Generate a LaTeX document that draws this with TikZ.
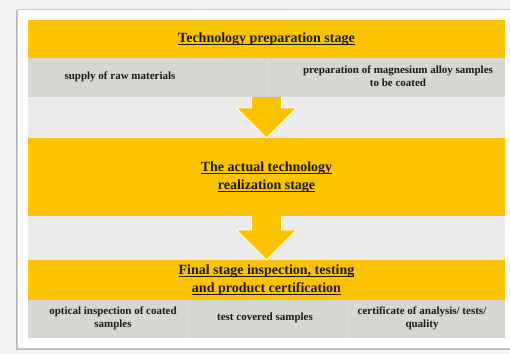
\documentclass[tikz,border=0pt]{standalone}
\usepackage{fontspec}
\setmainfont{Liberation Serif}
\usepackage{tikz}
\usetikzlibrary{calc}
\definecolor{stageyellow}{RGB}{251,195,0}
\definecolor{cellgrey}{RGB}{214,215,211}
\definecolor{gapgrey}{RGB}{235,235,235}
\definecolor{pagegrey}{RGB}{244,244,244}
\definecolor{inktext}{RGB}{25,25,25}
% underline that lets the descenders cross it
\newcommand{\stageul}[1]{\setbox0\hbox{#1}\rlap{\rule[-2.2pt]{\wd0}{0.9pt}}\box0}
\tikzset{
  band/.style   ={anchor=north west, minimum width=477pt, inner sep=0pt, outer sep=0pt,
                  align=center, text=inktext},
  stage/.style  ={band, fill=stageyellow, font=\bfseries\fontsize{14}{18}\selectfont},
  tasks/.style  ={band, fill=cellgrey},
  task/.style   ={align=center, text=inktext, inner sep=0pt,
                  font=\bfseries\fontsize{11}{13}\selectfont},
  divider/.style={draw=white!22!cellgrey, line width=0.6pt},
  flow/.style   ={fill=stageyellow, draw=white, line width=0.8pt, line join=miter},
}
% block arrow from the bottom of one band down to the top of the next
\newcommand{\stagearrow}[2]{%
  \path[flow] ($(#1.south)+(-15,0)$) -- ($(#2.north)+(-15,30)$) -- ($(#2.north)+(-30,30)$)
    -- (#2.north) -- ($(#2.north)+(30,30)$) -- ($(#2.north)+(15,30)$) -- ($(#1.south)+(15,0)$);}

\begin{document}
\begin{tikzpicture}[x=1pt,y=1pt]
\def\yA{334} \def\yB{296} \def\yC{216} \def\yD{94} \def\yE{54}
\useasboundingbox[fill=pagegrey] (0,0) rectangle (510,354);

% card with its shadow
\fill[black!28] (15.5,4) rectangle (512,343.5);
\fill[white,draw=black!22,line width=0.4pt] (17,6) rectangle (513,345);
\fill[gapgrey] (28,16) rectangle (505,\yA);

% stage 1
\node[stage, minimum height=38pt] (prep) at (28,\yA) {\stageul{Technology preparation stage}};
\node[tasks, minimum height=39pt] (prepwork) at (28,\yB) {};
\draw[divider] (268,\yB) -- (268,\yB-39);
\node[task] (rawmat) at (120,277.5) {supply of raw materials};
\node[task] (mgsamples) at (398,277.5) {preparation of magnesium alloy samples\\to be coated};

% stage 2
\node[stage, minimum height=78pt] (real) at (28,\yC)
  {\stageul{The actual technology}\\\stageul{realization stage}};

% stage 3
\node[stage, minimum height=40pt] (final) at (28,\yD)
  {\stageul{Final stage inspection, testing}\\\stageul{and product certification}};
\node[tasks, minimum height=38pt] (checks) at (28,\yE) {};
\draw[divider] (187,\yE) -- (187,\yE-38);
\draw[divider] (348,\yE) -- (348,\yE-38);
\node[task] (optical) at (113,36) {optical inspection of coated\\samples};
\node[task] (testing) at (265,36) {test covered samples};
\node[task] (certif) at (422,36) {certificate of analysis/ tests/\\quality};

% flow between the stages
\stagearrow{prepwork}{real}
\stagearrow{real}{final}
\end{tikzpicture}
\end{document}
